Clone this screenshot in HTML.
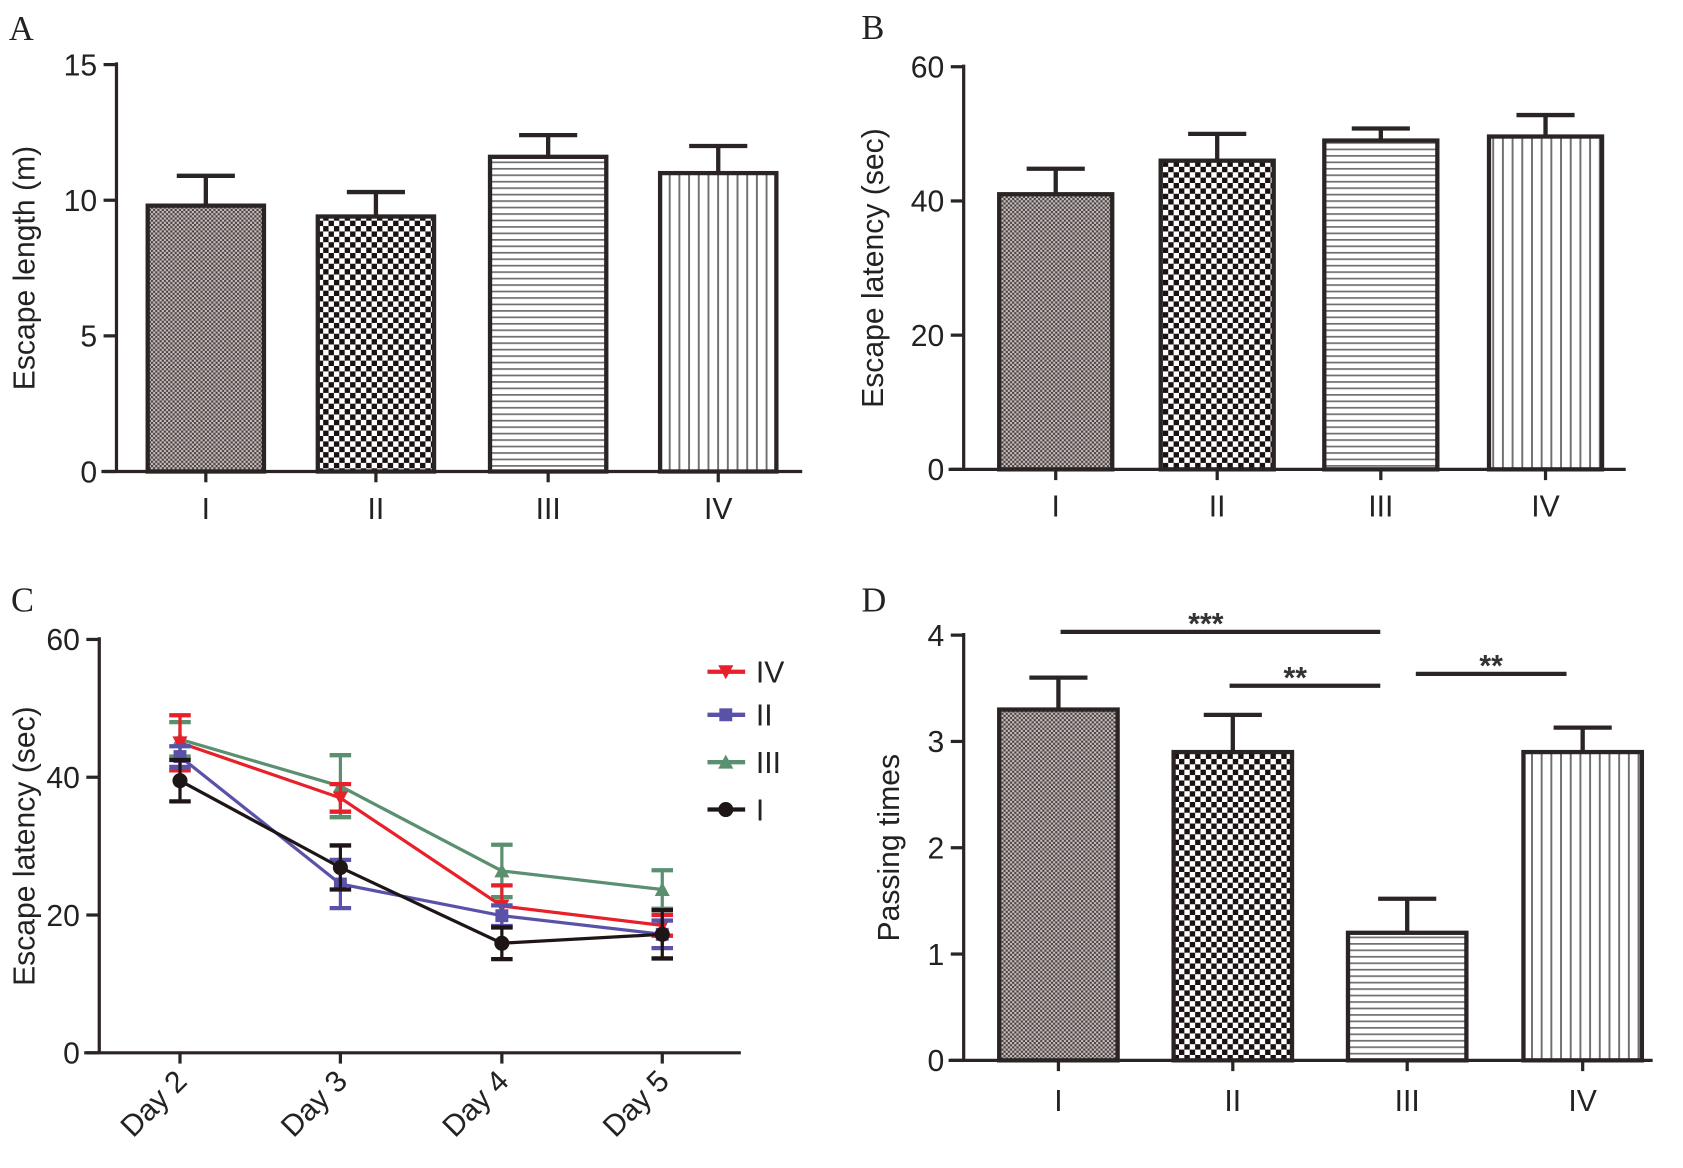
<!DOCTYPE html>
<html><head><meta charset="utf-8"><style>
html,body{margin:0;padding:0;background:#fff;}
svg{display:block;font-family:"Liberation Sans",sans-serif;}
</style></head><body>
<svg id="fig" width="1683" height="1168" viewBox="0 0 1563 1085" xmlns="http://www.w3.org/2000/svg">
<defs>
<pattern id="pI" width="4" height="4" patternUnits="userSpaceOnUse"><rect width="4" height="4" fill="#c8c0c0"/><rect width="2" height="2" fill="#4a4040"/><rect x="2" y="2" width="2" height="2" fill="#4a4040"/></pattern>
<pattern id="pII" width="10" height="10" patternUnits="userSpaceOnUse"><rect width="10" height="10" fill="#fff"/><rect width="5" height="5" fill="#1a1212"/><rect x="5" y="5" width="5" height="5" fill="#1a1212"/></pattern>
<pattern id="pIII" width="6" height="6" patternUnits="userSpaceOnUse"><rect width="6" height="6" fill="#fff"/><rect width="6" height="1.6" fill="#707070"/></pattern>
<pattern id="pIV" width="9" height="9" patternUnits="userSpaceOnUse"><rect width="9" height="9" fill="#fff"/><rect width="1.8" height="9" fill="#707070"/></pattern>
</defs>
<g id="root"></g>
</svg>
<script>
// Panel A data
const groups = ["I","II","III","IV"];
const aValues = [9.8, 9.4, 11.6, 11.0];
const aErrors = [1.1, 0.9, 0.8, 1.0];
const aTicks = [0,5,10,15];
// Panel B data
const bValues = [41, 46, 49, 49.6];
const bErrors = [3.8, 4.0, 1.8, 3.2];
const bTicks = [0,20,40,60];
// Panel C data
const days = ["Day 2","Day 3","Day 4","Day 5"];
const cIV = [45, 37, 21.3, 18.5];
const cIVerr = [4, 2, 3, 1.5];
const cII = [43, 24.5, 19.9, 17.2];
const cIIerr = [1.5, 3.5, 1.5, 2];
const cIII = [45.5, 38.7, 26.4, 23.7];
const cIIIerr = [2.5, 4.5, 3.8, 2.8];
const cI = [39.5, 26.9, 15.9, 17.2];
const cIerr = [3, 3.2, 2.3, 3.5];
const cTicks = [0,20,40,60];
// Panel D data
const dValues = [3.3, 2.9, 1.2, 2.9];
const dErrors = [0.3, 0.35, 0.32, 0.23];
const dTicks = [0,1,2,3,4];
const dSig = [["***",0,2],["**",1,2],["**",2,3]];

const NS="http://www.w3.org/2000/svg";
const root=document.getElementById('root');
function mk(tag,attrs,parent,text){const e=document.createElementNS(NS,tag);for(const k in attrs)e.setAttribute(k,attrs[k]);if(text!==undefined)e.textContent=text;(parent||root).appendChild(e);return e;}
const AX="#2b2424";
const pats=["url(#pI)","url(#pII)","url(#pIII)","url(#pIV)"];

function axes(g,x0,x1,y0,yTop,ticks,ymax,title,titleX){
  const ys=v=>y0-(y0-yTop)*v/ymax;
  const ya=mk('line',{x1:x0,y1:yTop-2,x2:x0,y2:y0,stroke:AX,'stroke-width':3},g);
  
  const xa=mk('line',{x1:x0-14,y1:y0,x2:x1,y2:y0,stroke:AX,'stroke-width':3},g);
  
  ticks.forEach(t=>{const y=ys(t);
    mk('line',{x1:x0-12,y1:y,x2:x0,y2:y,stroke:AX,'stroke-width':3},g);
    const tl=mk('text',{x:x0-18,y:y+10,'text-anchor':'end','font-size':28,fill:'#222'},g,String(t));
    });
  const yc=(y0+yTop)/2;
  const tt=mk('text',{x:titleX,y:yc,'text-anchor':'middle','font-size':28,fill:'#222',transform:`rotate(-90 ${titleX} ${yc})`},g,title);
  
  return ys;
}
function barPanel(name,x0,x1,y0,yTop,ticks,ymax,vals,errs,title,titleX,bx,bw,labelY){
  const g=mk('g',{});
  
  const ys=axes(g,x0,x1,y0,yTop,ticks,ymax,title,titleX);
  vals.forEach((v,i)=>{
    const cx=bx[i]+bw/2, top=ys(v), et=ys(v+errs[i]);
    const el=mk('line',{x1:cx,y1:top,x2:cx,y2:et,stroke:AX,'stroke-width':4},g);
    
    mk('line',{x1:cx-27,y1:et,x2:cx+27,y2:et,stroke:AX,'stroke-width':4},g);
    const r=mk('rect',{x:bx[i],y:top,width:bw,height:y0-top,fill:pats[i],stroke:AX,'stroke-width':4},g);
    
    mk('line',{x1:cx,y1:y0,x2:cx,y2:y0+10,stroke:AX,'stroke-width':3},g);
    const t=mk('text',{x:cx,y:labelY,'text-anchor':'middle','font-size':28,fill:'#222'},g,groups[i]);
    
  });
  return {g,ys};
}
function letter(s,x,y){const t=mk('text',{x:x,y:y,'font-size':32,'font-family':'Liberation Serif, serif',fill:'#222'},root,s);
  }

letter('A',8,37);letter('B',800,36);letter('C',10,568);letter('D',800,568);
barPanel('panel-a',108,745,438,60,aTicks,15,aValues,aErrors,'Escape length (m)',32,[137,295,455,613],108,482);
barPanel('panel-b',895,1510,436,62,bTicks,60,bValues,bErrors,'Escape latency (sec)',820,[928,1078,1230,1383],105,480);
const D=barPanel('panel-d',895,1535,985,590,dTicks,4,dValues,dErrors,'Passing times',835,[928,1090,1252,1415],110,1032);
const sigY=[587,637,626];
const sigX=[[985,1282],[1142,1282],[1315,1455]];
dSig.forEach((s,i)=>{
  const l=mk('line',{x1:sigX[i][0],y1:sigY[i],x2:sigX[i][1],y2:sigY[i],stroke:AX,'stroke-width':4},D.g);
  
  const mx=i===0?1120:(i===1?1203:1385);
  const t=mk('text',{x:mx,y:sigY[i]+2,'text-anchor':'middle','font-size':28,'font-weight':'bold',fill:'#333'},D.g,s[0]);
  
});

// Panel C
(function(){
  const g=mk('g',{});
  
  const x0=92,x1=688,y0=978,yTop=594;
  const ys=axes(g,x0,x1,y0,yTop,cTicks,60,'Escape latency (sec)',32);
  const dx=[167,316,466,615];
  days.forEach((d,i)=>{
    mk('line',{x1:dx[i],y1:y0,x2:dx[i],y2:y0+10,stroke:AX,'stroke-width':3},g);
    const t=mk('text',{x:dx[i]+8,y:y0+28,'text-anchor':'end','font-size':28,fill:'#222',transform:`rotate(-45 ${dx[i]+8} ${y0+28})`},g,d);
    
  });
  const series=[["IV",cIV,cIVerr,"#e8202a","tri-down"],["II",cII,cIIerr,"#5a52a8","square"],["III",cIII,cIIIerr,"#5a9070","tri-up"],["I",cI,cIerr,"#1e1616","circle"]];
  function marker(type,x,y,c,par){
    if(type==='circle')return mk('circle',{cx:x,cy:y,r:7,fill:c},par);
    if(type==='square')return mk('rect',{x:x-6,y:y-6,width:12,height:12,fill:c},par);
    if(type==='tri-up')return mk('path',{d:`M${x-7},${y+6}L${x+7},${y+6}L${x},${y-7}Z`,fill:c},par);
    return mk('path',{d:`M${x-7},${y-6}L${x+7},${y-6}L${x},${y+7}Z`,fill:c},par);
  }
  const drawOrder=[2,0,1,3];
  drawOrder.forEach(si=>{
    const [nm,vals,errs,col,mt]=series[si];
    const sg=mk('g',{},g);
    
    const pts=vals.map((v,i)=>dx[i]+','+ys(v)).join(' ');
    const pl=mk('polyline',{points:pts,fill:'none',stroke:col,'stroke-width':3},sg);
    
    vals.forEach((v,i)=>{
      const a=ys(v+errs[i]),b=ys(v-errs[i]);
      mk('line',{x1:dx[i],y1:a,x2:dx[i],y2:b,stroke:col,'stroke-width':3},sg);
      mk('line',{x1:dx[i]-10,y1:a,x2:dx[i]+10,y2:a,stroke:col,'stroke-width':4},sg);
      mk('line',{x1:dx[i]-10,y1:b,x2:dx[i]+10,y2:b,stroke:col,'stroke-width':4},sg);
      const m=marker(mt,dx[i],ys(v),col,sg);
      
    });
  });
  const ly=[624,664,708,752];
  series.forEach((s,i)=>{
    const lg=mk('g',{},g);
    
    mk('line',{x1:657,y1:ly[i],x2:692,y2:ly[i],stroke:s[3],'stroke-width':4},lg);
    marker(s[4],674,ly[i],s[3],lg);
    mk('text',{x:702,y:ly[i]+10,'font-size':28,fill:'#222'},lg,s[0]);
  });
})();
</script>
</body></html>
